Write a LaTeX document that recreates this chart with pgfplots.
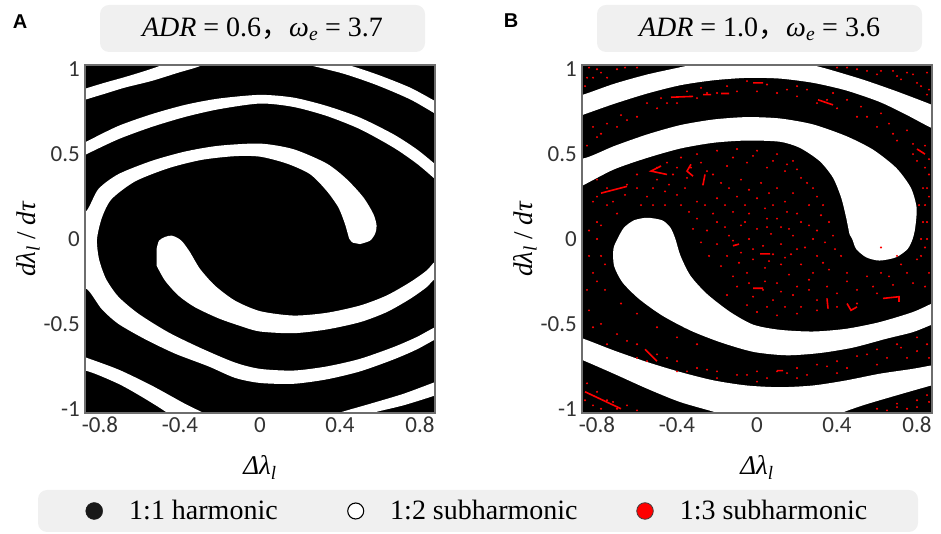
\documentclass[border=0pt]{standalone}
\usepackage{fontspec}
\setmainfont{Liberation Serif}
\newfontfamily\tickfont{Carlito}
\newfontfamily\panelfont{Liberation Sans}
\newfontfamily\cjk{Noto Sans CJK SC}
\usepackage{pgfplots}
\pgfplotsset{compat=1.18}
\definecolor{boxgray}{HTML}{F0F0F0}
\definecolor{framegray}{HTML}{6E6E6E}
\definecolor{ticktext}{HTML}{333333}

\pgfplotsset{
  basin/.style={
    scale only axis, width=350pt, height=348pt, anchor=south west,
    xmin=-0.875, xmax=0.875, ymin=-1.025, ymax=1.025,
    axis background/.style={fill=black},
    axis on top,
    axis line style={framegray, line width=1.2pt},
    xtick={-0.8,-0.4,0,0.4,0.8}, xticklabels={-0.8,-0.4,0,0.4,0.8},
    ytick={-1,-0.5,0,0.5,1}, yticklabels={-1,-0.5,0,0.5,1},
    major tick length=0pt,
    ticklabel style={font=\tickfont\fontsize{23}{23}\selectfont, text=ticktext},
    xticklabel style={inner sep=1pt, yshift=-3pt},
    yticklabel style={inner sep=1pt, xshift=-4pt},
    xlabel={\textit{Δλ}\textsubscript{\textit{l}}},
    ylabel={\textit{dλ}\textsubscript{\textit{l}} / \textit{dτ}},
    label style={font=\fontsize{27}{27}\selectfont},
    xlabel style={at={(axis description cs:0.5,-0.178)}, anchor=base},
    ylabel style={at={(axis description cs:-0.163,0.5)}, anchor=center},
  },
  white region/.style={draw=none, fill=white, smooth, tension=0.45, forget plot},
}

\begin{document}
\begin{tikzpicture}[x=1pt, y=1pt]
\useasboundingbox (0,0) rectangle (941,534);

% title boxes and legend box
\fill[boxgray, rounded corners=9pt] (100,482) rectangle (425,529);
\fill[boxgray, rounded corners=9pt] (597,482) rectangle (922,529);
\fill[boxgray, rounded corners=9pt] (38,2) rectangle (918,44);

\node[font=\panelfont\bfseries\fontsize{20}{20}\selectfont] at (20,512) {A};
\node[font=\panelfont\bfseries\fontsize{20}{20}\selectfont] at (511,513) {B};

\node[font=\fontsize{28}{30}\selectfont] at (262.5,505) {\textit{ADR} = 0.6{\cjk ，}\textit{ω}\textsubscript{\textit{e}} = 3.7};
\node[font=\fontsize{28}{30}\selectfont] at (759.5,505) {\textit{ADR} = 1.0{\cjk ，}\textit{ω}\textsubscript{\textit{e}} = 3.6};

% ---------------- panel A ----------------
\begin{axis}[basin, at={(85pt,121pt)},
  legend columns=3,
  legend style={at={(axis description cs:-0.0071,-0.2816)}, anchor=west,
    draw=none, fill=none, font=\fontsize{28}{30}\selectfont, cells={anchor=west}},
]
\addplot[white region] coordinates {(-0.95,0.855) (-0.867,0.888) (-0.775,0.921) (-0.675,0.954) (-0.575,0.99) (-0.49,1.025) (-0.45,1.06) (-0.27,1.06) (-0.3,1.019) (-0.408,0.98) (-0.542,0.931) (-0.675,0.892) (-0.775,0.856) (-0.867,0.823) (-0.95,0.79)} -- cycle;
\addplot[white region] coordinates {(0.2,1.06) (0.42,1.03) (0.583,0.97) (0.75,0.892) (0.875,0.813) (0.95,0.77) (0.95,0.69) (0.875,0.739) (0.75,0.823) (0.583,0.907) (0.417,0.974) (0.233,1.029) (0.19,1.05)} -- cycle;
\addplot[white region] coordinates {(-0.95,0.52) (-0.867,0.574) (-0.708,0.666) (-0.542,0.735) (-0.375,0.79) (-0.208,0.827) (0,0.849) (0.167,0.833) (0.333,0.784) (0.5,0.715) (0.667,0.617) (0.783,0.529) (0.875,0.441) (0.95,0.36) (0.95,0.27) (0.875,0.353) (0.783,0.445) (0.667,0.539) (0.5,0.647) (0.333,0.725) (0.167,0.778) (0,0.798) (-0.208,0.764) (-0.375,0.719) (-0.542,0.66) (-0.708,0.588) (-0.867,0.5) (-0.95,0.45)} -- cycle;
\addplot[white region] coordinates {(0.5,-0.03) (0.55,-0.01) (0.575,0.03) (0.583,0.078) (0.567,0.147) (0.517,0.245) (0.433,0.353) (0.333,0.445) (0.167,0.529) (0,0.562) (-0.208,0.549) (-0.375,0.515) (-0.542,0.46) (-0.708,0.382) (-0.808,0.294) (-0.867,0.166) (-0.95,0.1) (-0.95,-0.3) (-0.867,-0.294) (-0.792,-0.412) (-0.708,-0.5) (-0.575,-0.59) (-0.425,-0.675) (-0.258,-0.75) (-0.125,-0.818) (0,-0.848) (0.167,-0.853) (0.333,-0.827) (0.5,-0.78) (0.667,-0.71) (0.783,-0.651) (0.875,-0.592) (0.95,-0.55) (0.95,-0.49) (0.875,-0.52) (0.783,-0.578) (0.667,-0.637) (0.5,-0.706) (0.333,-0.751) (0.167,-0.775) (0,-0.765) (-0.125,-0.728) (-0.292,-0.645) (-0.458,-0.55) (-0.608,-0.44) (-0.708,-0.34) (-0.77,-0.235) (-0.805,-0.118) (-0.815,0) (-0.79,0.127) (-0.742,0.235) (-0.625,0.339) (-0.458,0.417) (-0.292,0.466) (-0.125,0.488) (0,0.485) (0.133,0.445) (0.25,0.382) (0.333,0.284) (0.392,0.186) (0.425,0.088) (0.447,0) (0.465,-0.022)} -- cycle;
\addplot[white region] coordinates {(-0.517,-0.059) (-0.505,-0.01) (-0.475,0.012) (-0.442,0.02) (-0.41,0.005) (-0.385,-0.02) (-0.35,-0.078) (-0.3,-0.176) (-0.225,-0.275) (-0.125,-0.363) (0,-0.425) (0.167,-0.451) (0.333,-0.435) (0.5,-0.392) (0.633,-0.333) (0.75,-0.255) (0.833,-0.186) (0.875,-0.133) (0.95,-0.08) (0.95,-0.2) (0.875,-0.235) (0.833,-0.284) (0.75,-0.353) (0.633,-0.431) (0.5,-0.49) (0.333,-0.533) (0.167,-0.555) (0,-0.545) (-0.092,-0.515) (-0.208,-0.467) (-0.325,-0.402) (-0.408,-0.333) (-0.475,-0.245) (-0.517,-0.157)} -- cycle;
\addplot[white region] coordinates {(-0.95,-0.66) (-0.875,-0.696) (-0.708,-0.769) (-0.542,-0.863) (-0.375,-0.971) (-0.275,-1.03) (-0.26,-1.06) (-0.47,-1.06) (-0.458,-1.03) (-0.575,-0.941) (-0.708,-0.853) (-0.875,-0.775) (-0.95,-0.81)} -- cycle;
\addplot[white region] coordinates {(0.36,-1.06) (0.383,-1.029) (0.55,-0.971) (0.717,-0.912) (0.875,-0.843) (0.95,-0.81) (0.95,-0.89) (0.875,-0.922) (0.717,-0.98) (0.55,-1.029) (0.54,-1.06)} -- cycle;

\addlegendimage{only marks, mark=*, mark size=8.5pt, mark options={fill=black!90, draw=black!90}}
\addlegendentry{\makebox[241pt][l]{\hspace{24.5pt}1:1 harmonic}}
\addlegendimage{only marks, mark=*, mark size=8pt, mark options={fill=white, draw=black, line width=1.1pt}}
\addlegendentry{\makebox[269pt][l]{\hspace{24.5pt}1:2 subharmonic}}
\addlegendimage{only marks, mark=*, mark size=8.3pt, mark options={fill=red, draw=black!75, line width=0.8pt}}
\addlegendentry{\makebox[212pt][l]{\hspace{24.5pt}1:3 subharmonic}}
\end{axis}

% ---------------- panel B ----------------
\begin{axis}[basin, at={(582pt,121pt)}]
% scattered 1:3 points
\addplot[only marks, mark=*, mark size=0.75pt, red, forget plot] coordinates {
(-0.45,0.45) (-0.38,0.48) (-0.3,0.5) (-0.2,0.52) (-0.1,0.53) (0.0,0.52) (0.1,0.5) (0.18,0.46)
(-0.5,0.35) (-0.42,0.38) (-0.33,0.42) (-0.25,0.4) (-0.15,0.43) (-0.05,0.45) (0.05,0.42) (0.14,0.4) (0.22,0.36) (0.28,0.3)
(-0.55,0.25) (-0.46,0.28) (-0.36,0.3) (-0.27,0.32) (-0.18,0.33) (-0.08,0.35) (0.02,0.33) (0.1,0.3) (0.18,0.27) (0.26,0.2) (0.32,0.14)
(-0.38,0.2) (-0.3,0.22) (-0.2,0.24) (-0.1,0.25) (0.0,0.24) (0.08,0.2) (0.15,0.16) (0.22,0.1) (0.3,0.05) (0.34,-0.02)
(-0.3,0.12) (-0.22,0.15) (-0.12,0.16) (-0.04,0.15) (0.05,0.12) (0.12,0.07) (0.18,0.02) (0.24,-0.05) (0.3,-0.1)
(-0.25,0.05) (-0.16,0.07) (-0.08,0.08) (0.0,0.06) (0.07,0.03) (0.12,-0.03) (0.17,-0.09) (0.22,-0.15) (0.28,-0.2) (0.36,-0.18) (0.42,-0.1)
(-0.2,-0.03) (-0.12,-0.01) (-0.04,0.0) (0.03,-0.04) (0.08,-0.09) (0.12,-0.15) (0.16,-0.21) (0.1,-0.26) (0.03,-0.3)
(-0.15,-0.1) (-0.08,-0.08) (-0.02,-0.12) (0.04,-0.17) (-0.05,-0.2) (-0.1,-0.28) (-0.02,-0.34) (0.08,-0.36) (0.18,-0.33) (0.26,-0.3) (0.35,-0.28) (0.45,-0.25) (0.55,-0.22) (0.62,-0.2)
(0.4,-0.4) (0.3,-0.42) (0.2,-0.44) (0.1,-0.45) (0.0,-0.43) (0.5,-0.38) (0.6,-0.32) (0.68,-0.27) (0.75,-0.2) (0.8,-0.12) (0.7,-0.1) (0.62,-0.05)
(0.82,0.0) (0.84,-0.05) (0.85,0.1) (0.84,0.2) (0.83,0.3) (0.86,-0.2) (0.84,-0.28)
(-0.8,0.0) (-0.78,-0.1) (-0.8,0.1) (-0.75,0.2) (-0.82,-0.2) (-0.76,-0.3) (-0.68,-0.38) (-0.6,-0.44) (-0.5,-0.52) (-0.4,-0.58) (-0.3,-0.62)
(-0.84,-0.42) (-0.78,-0.5) (-0.7,-0.56) (-0.6,-0.62) (-0.5,-0.68) (-0.4,-0.72) (-0.3,-0.76) (-0.2,-0.78) (-0.1,-0.8) (0,-0.78) (0.1,-0.78) (0.2,-0.76) (0.3,-0.74) (0.4,-0.72) (0.5,-0.69) (0.6,-0.65) (0.7,-0.62) (0.8,-0.58) (0.85,-0.62)
(-0.75,-0.62) (-0.55,-0.72) (-0.35,-0.78) (0.05,-0.82) (0.25,-0.8) (0.45,-0.76) (0.65,-0.7) (0.8,-0.66)
(-0.85,-0.85) (-0.8,-0.9) (-0.75,-0.95) (-0.7,-1.0) (-0.82,-0.98) (-0.65,-0.98)
(0.6,-1.0) (0.7,-0.97) (0.8,-0.95) (0.85,-0.92) (0.75,-1.0)
(-0.8,0.6) (-0.7,0.66) (-0.6,0.72) (-0.5,0.77) (-0.4,0.8) (-0.3,0.83) (-0.2,0.86) (-0.1,0.87) (0.0,0.87) (0.1,0.86) (0.2,0.84) (0.3,0.8) (0.4,0.77) (0.5,0.72) (0.6,0.66) (0.7,0.58) (0.78,0.5) (0.84,0.42) (0.85,0.3)
(-0.75,0.68) (-0.55,0.8) (-0.35,0.87) (-0.15,0.9) (0.05,0.91) (0.25,0.88) (0.45,0.82) (0.62,0.74) (0.75,0.64) (0.84,0.55)
(-0.85,0.95) (-0.8,1.0) (-0.7,1.0) (-0.75,0.95) (-0.6,1.01)
(0.4,1.01) (0.5,1.0) (0.6,0.97) (0.7,0.96) (0.8,0.92) (0.85,0.85) (0.55,0.99) (0.75,0.98) (0.85,0.98)
(-0.8,0.25) (-0.75,0.3) (-0.65,0.32) (-0.6,0.38) (-0.7,0.15) (-0.8,0.35)
(-0.5,0.42) (-0.44,0.32) (-0.4,0.42) (-0.35,0.36) (-0.28,0.45) (-0.22,0.38) (-0.12,0.48) (-0.02,0.49) (0.08,0.46) (0.15,0.44) (0.2,0.41) (0.25,0.33) (0.3,0.25) (0.33,0.2) (0.36,0.1) (0.38,0.02) (0.39,-0.06) (0.33,-0.14) (0.26,-0.24) (0.2,-0.28) (0.12,-0.31) (0.04,-0.25) (-0.04,-0.26) (-0.12,-0.22) (-0.18,-0.16) (-0.24,-0.1) (-0.28,-0.02) (-0.32,0.06) (-0.34,0.16) (-0.4,0.26) (-0.46,0.2) (-0.52,0.3) (-0.58,0.2)
(-0.14,0.3) (-0.04,0.29) (0.06,0.27) (0.14,0.22) (0.2,0.15) (0.26,0.08) (0.28,0.0) (0.2,-0.06) (0.14,-0.11) (0.06,-0.13) (-0.02,-0.06) (-0.09,-0.14) (-0.14,0.02) (-0.2,0.1) (-0.26,0.2) (-0.16,0.2) (-0.06,0.2) (0.04,0.18) (0.1,0.12) (0.16,0.06) (0.05,0.07) (-0.06,0.1)
(0.45,-0.2) (0.5,-0.3) (0.58,-0.28) (0.66,-0.22) (0.72,-0.15) (0.78,-0.26) (0.4,-0.32) (0.3,-0.36) (0.22,-0.4) (0.14,-0.4) (0.05,-0.4) (-0.05,-0.39) (-0.15,-0.33)
(-0.85,0.55) (-0.78,0.62) (-0.65,0.7) (-0.45,0.8) (-0.25,0.86) (0.15,0.88) (0.35,0.82) (0.55,0.72) (0.68,0.62) (0.8,0.46) (-0.82,0.66) (-0.68,0.73) (-0.48,0.83) (-0.28,0.89) (-0.05,0.93) (0.2,0.9) (0.38,0.86) (0.52,0.78) (0.66,0.68) (0.78,0.56) (0.86,0.47) (0.86,0.38)
(0.83,0.1) (0.85,0.0) (0.82,-0.1) (0.86,0.25) (0.81,0.2)
(-0.84,0.05) (-0.84,-0.1) (-0.8,-0.25) (-0.76,-0.15) (-0.85,-0.3) (-0.78,0.08)
(-0.82,0.22) (-0.72,0.22) (-0.66,0.26) (-0.6,0.3) (-0.52,0.2)
(-0.82,-0.52) (-0.65,-0.6) (-0.45,-0.7) (-0.25,-0.77) (-0.05,-0.8) (0.15,-0.79) (0.35,-0.75) (0.55,-0.68) (0.72,-0.64) (0.86,-0.7) (-0.6,-0.7) (-0.4,-0.78) (-0.2,-0.82) (0.0,-0.84) (0.2,-0.82) (0.4,-0.79) (0.6,-0.74) (0.75,-0.7)
(-0.86,-0.95) (-0.78,-1.0) (-0.72,-0.96) (-0.6,-1.01) (0.65,-1.01) (0.8,-0.99) (0.86,-0.96) (0.7,-0.99)
(-0.86,0.9) (-0.82,0.95) (-0.78,0.98) (-0.66,1.01) (-0.84,1.01)
(0.45,1.01) (0.62,0.99) (0.72,0.94) (0.82,0.9) (0.86,0.88) (0.78,0.97) (0.68,0.99)
};
% short 1:3 streaks
\addplot[red, line width=1.6pt, unbounded coords=jump, forget plot] coordinates {
(-0.43,0.835) (-0.32,0.84) (nan,nan)
(-0.27,0.85) (-0.23,0.85) (nan,nan)
(-0.18,0.857) (-0.14,0.857) (nan,nan)
(-0.02,0.92) (0.03,0.92) (nan,nan)
(0.305,0.82) (0.38,0.79) (nan,nan)
(0.8,0.53) (0.84,0.5) (nan,nan)
(-0.48,0.43) (-0.53,0.4) (-0.45,0.38) (nan,nan)
(-0.33,0.44) (-0.35,0.4) (-0.32,0.37) (nan,nan)
(-0.26,0.38) (-0.27,0.32) (nan,nan)
(-0.78,0.27) (-0.65,0.31) (nan,nan)
(-0.02,-0.29) (0.03,-0.29) (nan,nan)
(0.015,-0.088) (0.065,-0.088) (nan,nan)
(0.35,-0.35) (0.355,-0.41) (nan,nan)
(0.45,-0.38) (0.47,-0.42) (0.5,-0.4) (nan,nan)
(0.63,-0.35) (0.71,-0.34) (0.71,-0.37) (nan,nan)
(-0.56,-0.65) (-0.5,-0.72) (nan,nan)
(0.1,-0.775) (0.13,-0.775) (nan,nan)
(0.05,-0.88) (0.13,-0.9) (nan,nan)
(-0.86,-0.9) (-0.68,-1.0) (nan,nan)
(-0.12,-0.04) (-0.09,-0.03)
};
\addplot[white region] coordinates {(-0.95,0.83) (-0.867,0.851) (-0.715,0.914) (-0.549,0.969) (-0.383,1.012) (-0.317,1.031) (-0.3,1.06) (0.25,1.06) (0.264,1.031) (0.363,0.998) (0.529,0.939) (0.695,0.871) (0.871,0.792) (0.95,0.75) (0.95,0.62) (0.871,0.655) (0.745,0.733) (0.612,0.808) (0.446,0.875) (0.28,0.92) (0.114,0.945) (-0.051,0.949) (-0.217,0.935) (-0.383,0.906) (-0.549,0.857) (-0.715,0.796) (-0.867,0.733) (-0.95,0.7)} -- cycle;
\addplot[white region] coordinates {(-0.95,0.51) (-0.867,0.475) (-0.715,0.547) (-0.549,0.616) (-0.383,0.671) (-0.217,0.704) (-0.051,0.718) (0.114,0.71) (0.28,0.675) (0.446,0.606) (0.579,0.527) (0.695,0.42) (0.769,0.302) (0.798,0.184) (0.791,0.067) (0.778,0) (0.753,-0.059) (0.695,-0.108) (0.612,-0.127) (0.546,-0.108) (0.496,-0.059) (0.476,0) (0.463,0.027) (0.446,0.125) (0.421,0.243) (0.38,0.361) (0.313,0.459) (0.214,0.537) (0.114,0.573) (-0.051,0.58) (-0.217,0.567) (-0.383,0.533) (-0.549,0.478) (-0.715,0.41) (-0.867,0.318) (-0.95,0.27)} -- cycle;
\addplot[white region] coordinates {(0.95,-0.34) (0.871,-0.382) (0.778,-0.431) (0.612,-0.49) (0.446,-0.529) (0.28,-0.545) (0.114,-0.535) (-0.018,-0.505) (-0.134,-0.43) (-0.25,-0.324) (-0.333,-0.216) (-0.383,-0.098) (-0.408,0) (-0.433,0.067) (-0.474,0.11) (-0.549,0.125) (-0.615,0.11) (-0.665,0.067) (-0.698,0) (-0.718,-0.059) (-0.715,-0.157) (-0.673,-0.255) (-0.59,-0.353) (-0.474,-0.451) (-0.333,-0.539) (-0.184,-0.608) (-0.018,-0.665) (0.148,-0.685) (0.313,-0.672) (0.479,-0.64) (0.645,-0.588) (0.778,-0.549) (0.871,-0.506) (0.95,-0.47)} -- cycle;
\addplot[white region] coordinates {(-0.95,-0.56) (-0.867,-0.588) (-0.715,-0.657) (-0.549,-0.725) (-0.383,-0.784) (-0.217,-0.833) (-0.051,-0.863) (0.114,-0.873) (0.28,-0.863) (0.446,-0.833) (0.612,-0.794) (0.778,-0.765) (0.871,-0.745) (0.95,-0.73) (0.95,-0.84) (0.871,-0.863) (0.695,-0.922) (0.529,-0.98) (0.413,-1.03) (0.4,-1.06) (-0.17,-1.06) (-0.184,-1.03) (-0.383,-0.961) (-0.549,-0.882) (-0.715,-0.794) (-0.867,-0.716) (-0.95,-0.68)} -- cycle;
\end{axis}
\end{tikzpicture}
\end{document}
